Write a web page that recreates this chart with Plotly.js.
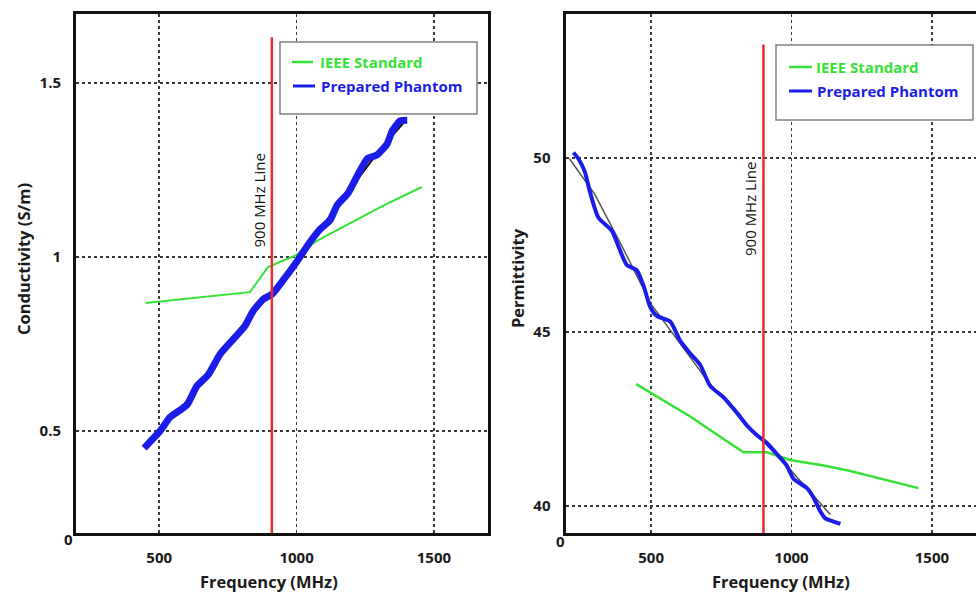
<!DOCTYPE html>
<html>
<head>
<meta charset="utf-8">
<script src="https://cdn.plot.ly/plotly-3.0.1.min.js"></script>
<style>html,body{margin:0;padding:0;background:#fff;}#chart{width:976px;height:593px;}</style>
</head>
<body>
<div id="chart"></div>
<script>
// ---------- Data: Conductivity (left) ----------
const condIeeeFreq = [450, 830, 896, 1001, 1074, 1314, 1456];
const condIeeeVal  = [0.868, 0.899, 0.971, 1.006, 1.046, 1.147, 1.201];

const condPhantomFreq = [445, 503, 540, 601, 637, 678, 722, 770, 812, 842, 879, 912, 952, 1002, 1049, 1086, 1122, 1148, 1188, 1225, 1257, 1293, 1330, 1348, 1377, 1403];
const condPhantomVal  = [0.451, 0.500, 0.540, 0.575, 0.629, 0.661, 0.721, 0.764, 0.802, 0.845, 0.879, 0.894, 0.934, 0.988, 1.043, 1.080, 1.106, 1.149, 1.184, 1.239, 1.282, 1.293, 1.325, 1.362, 1.391, 1.393];

const condFitFreq = [445, 600, 700, 800, 900, 1000, 1100, 1200, 1300, 1400];
const condFitVal  = [0.455, 0.585, 0.695, 0.800, 0.890, 0.990, 1.095, 1.200, 1.305, 1.395];

const condMarkerFreq = [910, 910];
const condMarkerVal  = [0.207, 1.631];

// ---------- Data: Permittivity (right) ----------
const permIeeeFreq = [447, 502, 639, 758, 829, 912, 995, 1114, 1209, 1452];
const permIeeeVal  = [43.50, 43.23, 42.57, 41.92, 41.54, 41.54, 41.32, 41.16, 41.00, 40.51];

const permPhantomFreq = [223, 241, 264, 283, 312, 360, 383, 413, 449, 473, 496, 520, 568, 603, 639, 675, 710, 758, 805, 841, 877, 912, 948, 983, 1007, 1055, 1078, 1102, 1120, 1150, 1174];
const permPhantomVal  = [50.16, 49.98, 49.60, 49.00, 48.29, 47.91, 47.47, 46.93, 46.77, 46.33, 45.73, 45.46, 45.30, 44.75, 44.38, 44.05, 43.45, 43.12, 42.68, 42.31, 42.03, 41.81, 41.49, 41.16, 40.78, 40.51, 40.24, 39.85, 39.64, 39.55, 39.48];

const permFitFreq = [209, 300, 400, 500, 600, 700, 800, 900, 1000, 1100, 1138];
const permFitVal  = [49.98, 48.95, 47.40, 45.80, 44.70, 43.60, 42.70, 41.85, 41.00, 40.10, 39.75];

const permMarkerFreq = [900, 900];
const permMarkerVal  = [39.22, 53.26];

const xTicks = [500, 1000, 1500];
const condTicks = [0.5, 1, 1.5];
const permTicks = [40, 45, 50];

// ---------- Styles ----------
const GREEN = '#35e235';
const BLUE = '#1c1ce8';
const RED = '#ee2a2a';
const FONT = 'Open Sans, sans-serif';
const tickFont = {family: FONT, size: 15, color: '#1a1a1a', weight: 'bold'};

const traces = [
  {x: condFitFreq, y: condFitVal, xaxis: 'x', yaxis: 'y', mode: 'lines', line: {color: '#111', width: 2}, hoverinfo: 'skip'},
  {x: condIeeeFreq, y: condIeeeVal, xaxis: 'x', yaxis: 'y', mode: 'lines', name: 'IEEE Standard', line: {color: GREEN, width: 2}},
  {x: condPhantomFreq, y: condPhantomVal, xaxis: 'x', yaxis: 'y', mode: 'lines', name: 'Prepared Phantom', line: {color: BLUE, width: 7, shape: 'spline', smoothing: 0.5}},
  {x: condMarkerFreq, y: condMarkerVal, xaxis: 'x', yaxis: 'y', mode: 'lines', line: {color: RED, width: 2.5}},

  {x: permFitFreq, y: permFitVal, xaxis: 'x2', yaxis: 'y2', mode: 'lines', line: {color: '#555', width: 1.5}, hoverinfo: 'skip'},
  {x: permIeeeFreq, y: permIeeeVal, xaxis: 'x2', yaxis: 'y2', mode: 'lines', name: 'IEEE Standard', line: {color: GREEN, width: 2.5}},
  {x: permPhantomFreq, y: permPhantomVal, xaxis: 'x2', yaxis: 'y2', mode: 'lines', name: 'Prepared Phantom', line: {color: BLUE, width: 4, shape: 'spline', smoothing: 0.6}},
  {x: permMarkerFreq, y: permMarkerVal, xaxis: 'x2', yaxis: 'y2', mode: 'lines', line: {color: RED, width: 2.5}}
];

const W = 976, H = 593;
const px = v => v / W;
const py = v => 1 - v / H;

const axisCommon = {
  showgrid: true, gridcolor: '#3a3a3a', gridwidth: 1.5, griddash: 'dot',
  showline: true, linecolor: '#111', linewidth: 3,
  zeroline: false, ticks: '', tickfont: tickFont, fixedrange: true
};

const titleFont = {family: FONT, size: 16.5, color: '#1a1a1a'};
const legFont = {family: FONT, size: 15};
const lineLblFont = {family: FONT, size: 15, color: '#111'};
const zeroFont = {family: FONT, size: 15, color: '#1a1a1a'};

function ann(x, y, text, font, extra) {
  return Object.assign({xref: 'paper', yref: 'paper', x: px(x), y: py(y), text: text, showarrow: false,
    xanchor: 'center', yanchor: 'middle', font: font}, extra || {});
}

const yDom = [1 - 533 / H, 1 - 14 / H];

const layout = {
  width: W, height: H,
  margin: {l: 0, r: 0, t: 0, b: 0},
  paper_bgcolor: '#fff', plot_bgcolor: '#fff',
  showlegend: false,
  xaxis: Object.assign({}, axisCommon, {domain: [px(76), px(488)], range: [197, 1697], tickvals: xTicks, mirror: true, ticklabelstandoff: 9, anchor: 'y'}),
  yaxis: Object.assign({}, axisCommon, {domain: yDom, range: [0.207, 1.698], tickvals: condTicks, ticktext: ['0.5', '1', '1.5'], mirror: true, ticklabelstandoff: 9, anchor: 'x'}),
  xaxis2: Object.assign({}, axisCommon, {domain: [px(565.5), 1], range: [195, 1657], tickvals: xTicks, mirror: true, ticklabelstandoff: 9, anchor: 'y2'}),
  yaxis2: Object.assign({}, axisCommon, {domain: yDom, range: [39.22, 54.14], tickvals: permTicks, mirror: false, ticklabelstandoff: 9, anchor: 'x2'}),
  shapes: [
    // legend boxes
    {type: 'rect', xref: 'paper', yref: 'paper', x0: px(280), x1: px(477), y0: py(42), y1: py(114), line: {color: '#808080', width: 1.5}, fillcolor: '#fff', layer: 'above'},
    {type: 'line', xref: 'paper', yref: 'paper', x0: px(292), x1: px(313), y0: py(62), y1: py(62), line: {color: GREEN, width: 2.5}},
    {type: 'line', xref: 'paper', yref: 'paper', x0: px(293), x1: px(315), y0: py(86), y1: py(86), line: {color: BLUE, width: 3}},
    {type: 'rect', xref: 'paper', yref: 'paper', x0: px(776), x1: px(973), y0: py(45), y1: py(120), line: {color: '#808080', width: 1.5}, fillcolor: '#fff', layer: 'above'},
    {type: 'line', xref: 'paper', yref: 'paper', x0: px(789), x1: px(812), y0: py(67), y1: py(67), line: {color: GREEN, width: 2.5}},
    {type: 'line', xref: 'paper', yref: 'paper', x0: px(789), x1: px(812), y0: py(91), y1: py(91), line: {color: BLUE, width: 3}}
  ],
  annotations: [
    ann(318, 62, '<b>IEEE Standard</b>', Object.assign({}, legFont, {color: GREEN}), {xanchor: 'left'}),
    ann(319, 86, '<b>Prepared Phantom</b>', Object.assign({}, legFont, {color: BLUE}), {xanchor: 'left'}),
    ann(814, 67, '<b>IEEE Standard</b>', Object.assign({}, legFont, {color: GREEN}), {xanchor: 'left'}),
    ann(815, 91, '<b>Prepared Phantom</b>', Object.assign({}, legFont, {color: BLUE}), {xanchor: 'left'}),
    // 900 MHz labels
    ann(258.5, 201, '900 MHz Line', lineLblFont, {textangle: -90}),
    ann(750, 209, '900 MHz Line', lineLblFont, {textangle: -90}),
    // axis titles
    ann(269, 581, '<b>Frequency (MHz)</b>', titleFont),
    ann(781, 581, '<b>Frequency (MHz)</b>', titleFont),
    ann(23, 259, '<b>Conductivity (S/m)</b>', titleFont, {textangle: -90}),
    ann(517, 278, '<b>Permittivity</b>', titleFont, {textangle: -90}),
    // corner zeros
    ann(68.5, 539, '<b>0</b>', zeroFont),
    ann(560, 541, '<b>0</b>', zeroFont)
  ]
};

Plotly.newPlot('chart', traces, layout, {displayModeBar: false, staticPlot: true});
</script>
</body>
</html>
